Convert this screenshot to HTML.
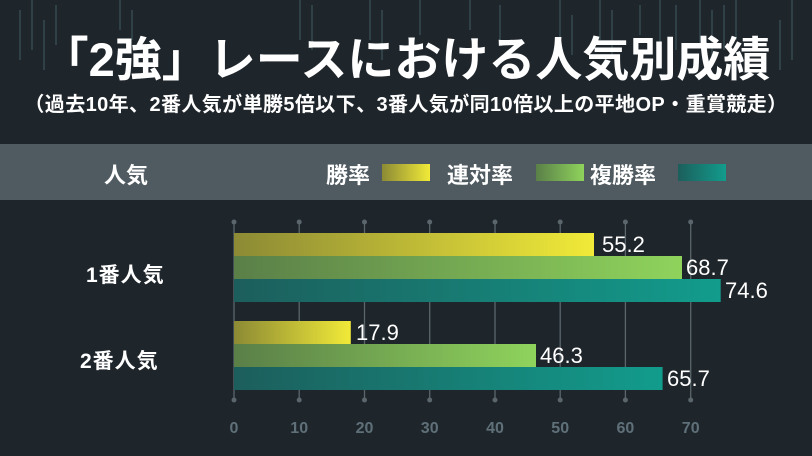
<!DOCTYPE html><html><head><meta charset="utf-8"><style>
body{margin:0;width:812px;height:456px;background:#1e252b;overflow:hidden;font-family:"Liberation Sans","Noto Sans CJK JP",sans-serif;position:relative}
.a{position:absolute;white-space:nowrap}
</style></head><body>
<svg class="a" style="left:0;top:0" width="812" height="456">
<defs>
<linearGradient id="y"><stop offset="0" stop-color="#8c8a35"/><stop offset="1" stop-color="#f1ea38"/></linearGradient>
<linearGradient id="g"><stop offset="0" stop-color="#5a7f48"/><stop offset="1" stop-color="#8fd35c"/></linearGradient>
<linearGradient id="t"><stop offset="0" stop-color="#1c5e5c"/><stop offset="1" stop-color="#129c8c"/></linearGradient>
</defs>
<g stroke="#34474f" stroke-width="2" opacity="0.8">
<path d="M20 10V60M32 0V50M44 20V70M56 5V45M370 0V40M382 10V60M560 0V50M572 15V55M700 0V45M712 10V60M724 5V50M736 0V40M780 20V70M792 0V60M120 0V30M132 10V40M470 0V30M640 5V35M300 0V40M312 5V50M420 0V35M500 5V45M600 0V40M612 10V55M660 0V45M676 5V50"/>
</g>
<rect x="0" y="144" width="812" height="56" fill="#4f5b61"/>
<g stroke="#5a666c" stroke-width="1.3">
<path d="M234 222V400M299.2 222V400M364.5 222V400M429.7 222V400M495 222V400M560.2 222V400M625.4 222V400M690.7 222V400"/>
</g>
<g fill="#5a666c">
<circle cx="234" cy="222" r="2.5"/><circle cx="299.2" cy="222" r="2.5"/><circle cx="364.5" cy="222" r="2.5"/><circle cx="429.7" cy="222" r="2.5"/><circle cx="495" cy="222" r="2.5"/><circle cx="560.2" cy="222" r="2.5"/><circle cx="625.4" cy="222" r="2.5"/><circle cx="690.7" cy="222" r="2.5"/>
<circle cx="234" cy="400" r="2.5"/><circle cx="299.2" cy="400" r="2.5"/><circle cx="364.5" cy="400" r="2.5"/><circle cx="429.7" cy="400" r="2.5"/><circle cx="495" cy="400" r="2.5"/><circle cx="560.2" cy="400" r="2.5"/><circle cx="625.4" cy="400" r="2.5"/><circle cx="690.7" cy="400" r="2.5"/>
</g>
<rect x="234" y="233" width="360" height="23" fill="url(#y)"/>
<rect x="234" y="256" width="448" height="23" fill="url(#g)"/>
<rect x="234" y="279" width="486.7" height="23" fill="url(#t)"/>
<rect x="234" y="321" width="116.8" height="23" fill="url(#y)"/>
<rect x="234" y="344" width="302" height="23" fill="url(#g)"/>
<rect x="234" y="367" width="428.6" height="23" fill="url(#t)"/>
<rect x="382" y="164" width="48" height="17" fill="url(#y)"/>
<rect x="536" y="164" width="48" height="17" fill="url(#g)"/>
<rect x="678" y="164" width="48" height="17" fill="url(#t)"/>
<g fill="#fff" font-size="22" font-family="Liberation Sans,sans-serif">
<text x="602" y="252">55.2</text><text x="686" y="275">68.7</text><text x="725" y="298">74.6</text>
<text x="356" y="340">17.9</text><text x="540" y="363">46.3</text><text x="667" y="386">65.7</text>
</g>
<g fill="#5f7079" font-size="16" font-weight="bold" text-anchor="middle" font-family="Liberation Sans,sans-serif">
<text x="234" y="433">0</text><text x="299.2" y="433">10</text><text x="364.5" y="433">20</text><text x="429.7" y="433">30</text><text x="495" y="433">40</text><text x="560.2" y="433">50</text><text x="625.4" y="433">60</text><text x="690.7" y="433">70</text>
</g>
</svg>
<div class="a" style="left:0;width:812px;top:32px;text-align:center;color:#fff;font-size:47px;font-weight:bold;line-height:56px">「2強」レースにおける人気別成績</div>
<div class="a" style="left:0;width:812px;top:92px;text-align:center;color:#fff;font-size:20px;font-weight:bold;letter-spacing:0.4px;line-height:26px">（過去10年、2番人気が単勝5倍以下、3番人気が同10倍以上の平地OP・重賞競走）</div>
<div class="a" style="left:104px;top:158px;color:#fff;font-size:22px;font-weight:bold">人気</div>
<div class="a" style="left:326px;top:158px;color:#fff;font-size:22px;font-weight:bold">勝率</div>
<div class="a" style="left:447px;top:158px;color:#fff;font-size:22px;font-weight:bold">連対率</div>
<div class="a" style="left:590px;top:158px;color:#fff;font-size:22px;font-weight:bold">複勝率</div>
<div class="a" style="left:86px;top:259px;color:#fff;font-size:21px;font-weight:bold;letter-spacing:1px">1番人気</div>
<div class="a" style="left:80px;top:345px;color:#fff;font-size:21px;font-weight:bold;letter-spacing:1px">2番人気</div>
</body></html>
